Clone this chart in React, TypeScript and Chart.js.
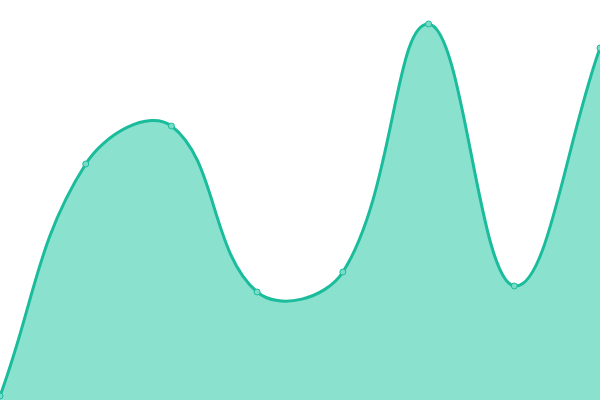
import React, { useEffect, useRef } from "react";
import { Chart, registerables } from "chart.js";

Chart.register(...registerables);

const labels = ["1", "2", "3", "4", "5", "6", "7", "8"];
const values = [1, 59, 68.5, 27, 32, 94, 28.5, 88];
const yMin = 0;
const yMax = 100;

export default function App() {
  const ref = useRef<HTMLCanvasElement | null>(null);

  useEffect(() => {
    document.body.style.margin = "0";
    const ctx = ref.current;
    if (!ctx) return;
    const chart = new Chart(ctx, {
      type: "line",
      data: {
        labels,
        datasets: [
          {
            data: values,
            borderColor: "#1abc9c",
            backgroundColor: "rgba(22,196,158,0.5)",
            borderWidth: 3,
            fill: "start",
            tension: 0.4,
            pointRadius: 3,
            pointBorderWidth: 1,
            pointBackgroundColor: "rgba(120,220,200,1)",
            pointBorderColor: "#1abc9c",
          },
        ],
      },
      options: {
        animation: false,
        responsive: true,
        maintainAspectRatio: false,
        layout: { padding: 0, autoPadding: false },
        plugins: { legend: { display: false }, tooltip: { enabled: false } },
        scales: {
          x: { display: false },
          y: { display: false, min: yMin, max: yMax },
        },
      },
    });
    return () => chart.destroy();
  }, []);

  return (
    <div style={{ position: "fixed", left: 0, top: 0, width: 600, height: 400 }}>
      <canvas ref={ref} />
    </div>
  );
}
